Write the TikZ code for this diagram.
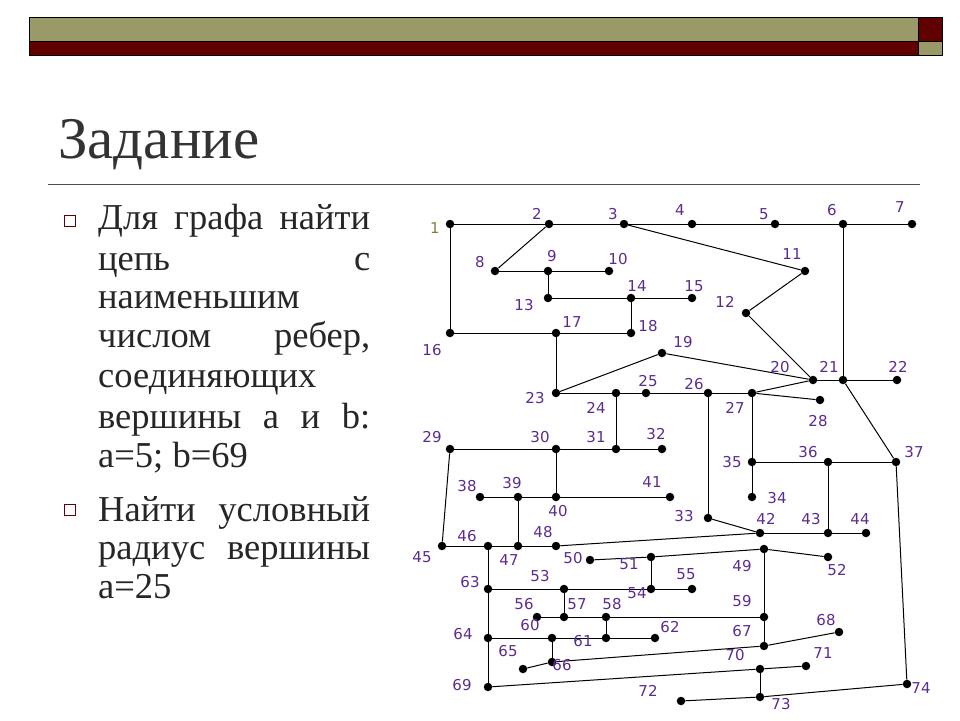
\documentclass[tikz,border=0pt]{standalone}
\usepackage{fontspec}
\setmainfont{Liberation Serif}
\newfontfamily\lblfont{DejaVu Sans}
\definecolor{olivebar}{HTML}{9A9A68}
\definecolor{darkred}{HTML}{600000}
\definecolor{lblc}{HTML}{5B2C8F}
\definecolor{olivelbl}{HTML}{8A7A40}
\begin{document}
\begin{tikzpicture}[x=1pt,y=-1pt,
  v/.style={circle,fill=black,inner sep=0pt,minimum size=8.5pt},
  lb/.style={text=lblc,font=\lblfont\fontsize{15}{15}\selectfont,inner sep=0pt},
  ed/.style={line width=1pt},
  txt/.style={anchor=base west,inner sep=0pt,font=\fontsize{36.5}{36.5}\selectfont,text=black!85},
  bul/.style={draw=darkred,line width=1.4pt,fill=white,minimum size=11pt,inner sep=0pt}]
\useasboundingbox (0,0) rectangle (960,720);
% top bar
\fill[olivebar] (29,17) rectangle (918,41);
\fill[darkred] (918,17) rectangle (942,41);
\fill[darkred] (29,41) rectangle (918,55);
\fill[olivebar] (918,41) rectangle (942,55);
\draw[line width=0.7pt] (29,17) rectangle (942,55) (29,41) -- (942,41) (918,17) -- (918,55);
% title
\node[anchor=base west,inner sep=0pt,font=\fontsize{59}{59}\selectfont,text=black!80] (title) at (58,158) {Задание};
\draw[line width=0.6pt,black!70] (48,184) -- (920,184);
% text
\node[bul] (b1) at (70,221) {};
\node[bul] (b2) at (70,510) {};
\node[txt] (t1) at (98,229) {\makebox[272pt][s]{Для графа найти}};
\node[txt] (t2) at (98,270) {\makebox[272pt][s]{цепь\hfill с}};
\node[txt] (t3) at (98,308) {наименьшим};
\node[txt] (t4) at (98,347) {\makebox[272pt][s]{числом\hfill ребер,}};
\node[txt] (t5) at (98,387) {соединяющих};
\node[txt] (t6) at (98,428) {\makebox[272pt][s]{вершины\hfill a\hfill и\hfill b:}};
\node[txt] (t7) at (98,467) {a=5; b=69};
\node[txt] (t8) at (98,521) {\makebox[272pt][s]{Найти\hfill условный}};
\node[txt] (t9) at (98,559) {\makebox[272pt][s]{радиус\hfill вершины}};
\node[txt] (t10) at (98,598) {a=25};
% vertices
\foreach \n/\x/\y in {1/450/224,2/549/224,3/624/224,4/692/224,5/775/224,6/843/224,7/912/224,
8/495/271,9/548/271,10/609/271,11/805/271,12/746/313,13/548/298,14/631/298,15/692/298,
16/450/333,17/556/333,18/631/333,19/662/353,20/813/380,21/843/380,22/897/380,
23/556/393,24/616/393,25/646/393,26/708/393,27/752/393,28/820/400,
29/450/449,30/556/449,31/616/449,32/662/449,35/752/462,36/828/462,37/896/462,
38/480/497,39/518/497,40/556/497,41/670/497,34/752/497,33/708/518,
42/760/533,43/828/533,44/866/533,45/442/546,46/488/546,47/518/546,48/556/546,
50/590/560,51/651/557,49/764/549,52/828/557,63/488/589,53/564/589,54/651/589,55/692/589,
56/537/617,57/564/617,58/606/617,59/764/617,64/488/638,60/552/638,61/606/638,62/655/638,
67/764/646,68/839/632,65/523/669,66/552/662,70/760/669,71/806/666,69/488/687,
72/681/701,73/760/697,74/907/684}
  \node[v] (n\n) at (\x,\y) {};
% edges
\foreach \a/\b in {1/2,2/3,3/4,4/5,5/6,6/7,1/16,2/8,3/11,11/12,12/20,6/21,8/9,9/10,9/13,13/14,14/15,14/18,
16/17,17/18,17/23,23/19,19/20,20/21,21/22,21/37,23/24,24/25,25/26,26/27,27/20,27/28,24/31,26/33,27/35,
29/30,30/31,31/32,30/40,29/45,35/36,36/37,35/34,36/43,37/74,38/39,39/40,40/41,39/47,33/42,42/43,43/44,
45/46,46/47,47/48,48/42,46/63,63/64,64/69,50/51,51/49,49/52,51/54,63/53,53/54,54/55,53/57,56/57,57/58,
58/59,49/59,59/67,58/61,64/60,60/61,61/62,60/66,65/66,66/67,67/68,69/70,70/71,70/73,72/73,73/74}
  \draw[ed] (n\a) -- (n\b);
% labels
\node[lb,text=olivelbl] (l1) at (435,228) {1};
\foreach \n/\x/\y in {2/537/214,3/613/214,4/680/210,5/764/214,6/832/210,7/900/207,8/480/262,9/552/256,
10/618/259,11/792/254,12/725/302,13/524/305,14/637/286,15/694/286,16/432/350,17/572/322,18/648/326,
19/683/342,20/780/367,21/829/367,22/898/367,23/535/398,24/596/408,25/648/381,26/694/384,27/735/408,
28/818/421,29/432/437,30/540/437,31/596/437,32/656/434,33/684/516,34/777/498,35/732/462,36/808/452,
37/914/452,38/467/486,39/512/483,40/558/511,41/652/482,42/766/519,43/811/519,44/860/519,45/422/557,
46/467/536,47/509/560,48/543/532,49/742/566,50/573/558,51/629/564,52/837/570,53/540/576,54/637/593,
55/686/574,56/524/604,57/577/604,58/612/604,59/742/601,60/530/625,61/583/641,62/670/627,63/470/582,
64/463/634,65/508/651,66/562/665,67/742/631,68/826/620,69/462/685,70/735/655,71/823/653,72/648/691,
73/781/704,74/921/688}
  \node[lb] (l\n) at (\x,\y) {\n};
\end{tikzpicture}
\end{document}
